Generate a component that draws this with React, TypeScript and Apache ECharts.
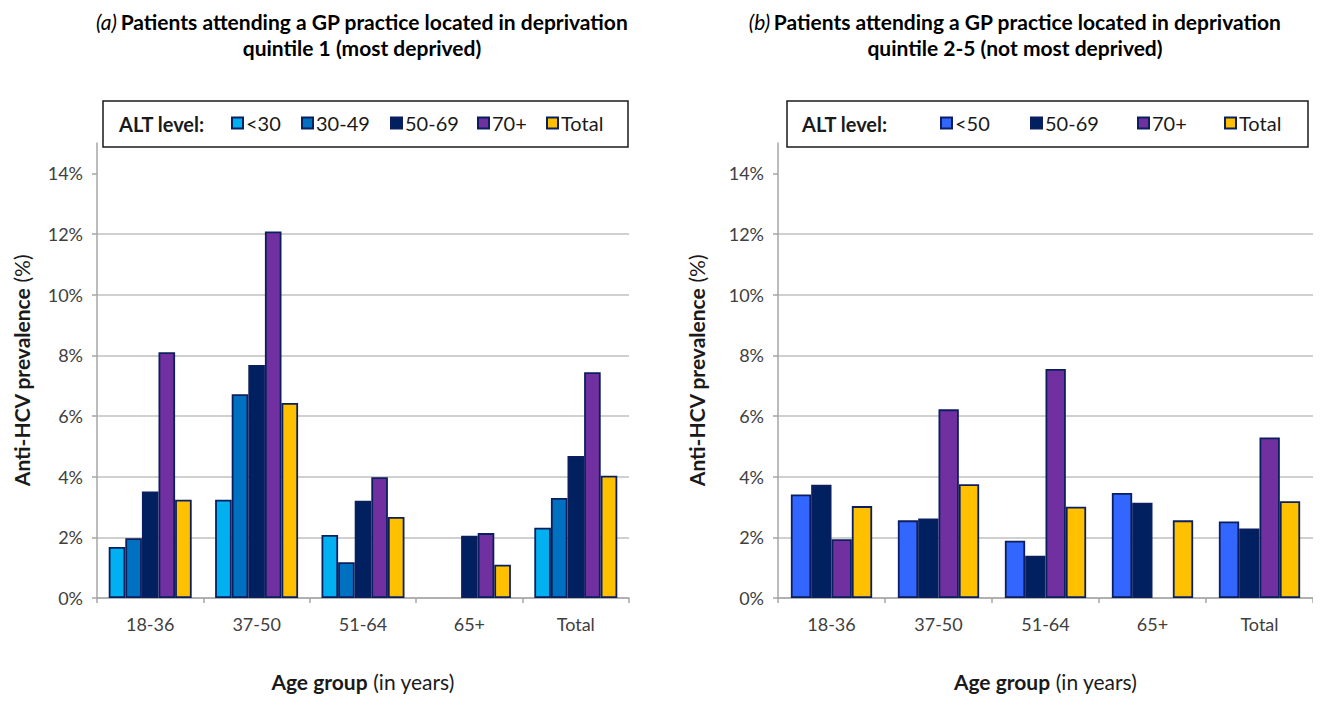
import React, { useEffect, useRef } from "react";
import * as echarts from "echarts";

const categories = ["18-36", "37-50", "51-64", "65+", "Total"];
const yTickValues = [0, 2, 4, 6, 8, 10, 12, 14];

// Panel (a): deprivation quintile 1
const aNames = ["<30", "30-49", "50-69", "70+", "Total"];
const aLt30 = [1.68, 3.24, 2.08, null, 2.32];
const a30to49 = [1.97, 6.72, 1.18, null, 3.3];
const a50to69 = [3.51, 7.68, 3.21, 2.05, 4.68];
const a70plus = [8.1, 12.08, 3.98, 2.14, 7.44];
const aTotal = [3.24, 6.43, 2.67, 1.1, 4.03];

// Panel (b): deprivation quintile 2-5
const bNames = ["<50", "50-69", "70+", "Total"];
const bLt50 = [3.41, 2.56, 1.89, 3.46, 2.52];
const b50to69 = [3.73, 2.62, 1.39, 3.14, 2.29];
const b70plus = [1.94, 6.22, 7.55, null, 5.29];
const bTotal = [3.03, 3.75, 3.01, 2.56, 3.19];

const FONT = "Lato";
const BORDER = "#0b1f5e";
const TXT = "#1a1a1a";
const colorMap: Record<string, string> = {
  "<30": "#00b0f0",
  "30-49": "#0070c0",
  "<50": "#3366ff",
  "50-69": "#002060",
  "70+": "#7030a0",
  Total: "#ffc000",
};

export default function App() {
  const ref = useRef<HTMLDivElement>(null);
  useEffect(() => {
    if (!ref.current) return;
    const chart = echarts.init(ref.current, undefined, { renderer: "svg" });

    const grids = [
      { left: 89, top: 135, width: 532, height: 465 },
      { left: 770, top: 135, width: 536, height: 465 },
    ];

    const nameRich = {
      b: { fontSize: 21, fontWeight: "bold", fontFamily: FONT, color: TXT },
      n: { fontSize: 21, fontFamily: FONT, color: TXT },
    };

    const xAxis = grids.map((_, i) => ({
      type: "category",
      gridIndex: i,
      data: categories,
      boundaryGap: true,
      axisLine: { show: true, lineStyle: { color: "#a6a6a6", width: 1.5 } },
      axisTick: { show: true, length: 5, lineStyle: { color: "#a6a6a6", width: 1.5 } },
      axisLabel: { color: "#404040", fontSize: 18, fontFamily: FONT, margin: 17 },
      name: "{b|Age group} {n|(in years)}",
      nameLocation: "middle",
      nameGap: 73,
      nameTextStyle: { fontSize: 21, fontFamily: FONT, rich: nameRich },
    }));

    const yAxis = grids.map((_, i) => ({
      type: "value",
      gridIndex: i,
      min: 0,
      max: 15,
      interval: 2,
      axisLine: { show: true, lineStyle: { color: "#a6a6a6", width: 1.5 } },
      axisTick: { show: true, length: 5, customValues: yTickValues, lineStyle: { color: "#a6a6a6", width: 1.5 } },
      axisLabel: {
        color: "#404040",
        fontSize: 18,
        fontFamily: FONT,
        margin: 14,
        customValues: yTickValues,
        formatter: (v: number) => `${v}%`,
      },
      splitLine: { show: true, showMaxLine: false, lineStyle: { color: "#c0c0c0", width: 1.5 } },
      name: "{b|Anti-HCV prevalence} {n|(%)}",
      nameLocation: "middle",
      nameGap: i === 0 ? 65 : 71,
      nameTextStyle: { fontSize: 21, fontFamily: FONT, rich: nameRich },
    }));

    const mkBar = (name: string, data: (number | null)[], gi: number) => ({
      type: "bar",
      name,
      xAxisIndex: gi,
      yAxisIndex: gi,
      data,
      barGap: "0%",
      barCategoryGap: gi === 0 ? "22%" : "24%",
      itemStyle: { color: colorMap[name], borderColor: BORDER, borderWidth: 1.8 },
    });

    const series = [
      mkBar(aNames[0], aLt30, 0),
      mkBar(aNames[1], a30to49, 0),
      mkBar(aNames[2], a50to69, 0),
      mkBar(aNames[3], a70plus, 0),
      mkBar(aNames[4], aTotal, 0),
      mkBar(bNames[0], bLt50, 1),
      mkBar(bNames[1], b50to69, 1),
      mkBar(bNames[2], b70plus, 1),
      mkBar(bNames[3], bTotal, 1),
    ];

    const legendLefts = [
      [223, 293, 382, 469, 538],
      [932, 1022, 1129, 1216],
    ];
    const legendTop = 105;
    const legend: any[] = [];
    [aNames, bNames].forEach((names, p) => {
      names.forEach((n, k) => {
        legend.push({
          data: [n],
          left: legendLefts[p][k],
          top: legendTop,
          padding: 0,
          itemWidth: 11,
          itemHeight: 11,
          itemGap: 4,
          icon: "rect",
          selectedMode: false,
          z: 6,
          textStyle: { fontSize: 20, fontFamily: FONT, color: TXT, padding: [0, 0, 0, -2] },
        });
      });
    });

    const boxes = [
      { x: 95, w: 525, label: 111 },
      { x: 779, w: 521, label: 794 },
    ];
    const graphic: any[] = [];
    boxes.forEach((b) => {
      graphic.push({
        type: "rect",
        z: 5,
        shape: { x: b.x, y: 93, width: b.w, height: 46 },
        style: { fill: "#ffffff", stroke: TXT, lineWidth: 1.5 },
      });
      graphic.push({
        type: "text",
        z: 6,
        x: b.label,
        y: 116,
        style: {
          text: "ALT level:",
          font: `bold 20px ${FONT}`,
          fill: TXT,
          verticalAlign: "middle",
        },
      });
    });
    const titleRich = {
      i: { fontSize: 21, fontStyle: "italic", fontFamily: FONT, color: TXT, lineHeight: 26 },
      b: { fontSize: 21, fontWeight: "bold", fontFamily: FONT, color: TXT, lineHeight: 26 },
    };
    graphic.push({
      type: "text",
      x: 354,
      y: 0,
      style: {
        text: "{i|(a)} {b|Patients attending a GP practice located in deprivation}\n{b|quintile 1 (most deprived)}",
        rich: titleRich,
        align: "center",
        verticalAlign: "top",
      },
    });
    graphic.push({
      type: "text",
      x: 1007,
      y: 0,
      style: {
        text: "{i|(b)} {b|Patients attending a GP practice located in deprivation}\n{b|quintile 2-5 (not most deprived)}",
        rich: titleRich,
        align: "center",
        verticalAlign: "top",
      },
    });

    chart.setOption({
      animation: false,
      backgroundColor: "#ffffff",
      textStyle: { fontFamily: FONT },
      grid: grids,
      xAxis,
      yAxis,
      legend,
      series,
      graphic,
    });
    return () => chart.dispose();
  }, []);
  return <div ref={ref} style={{ width: 1305, height: 689 }} />;
}
